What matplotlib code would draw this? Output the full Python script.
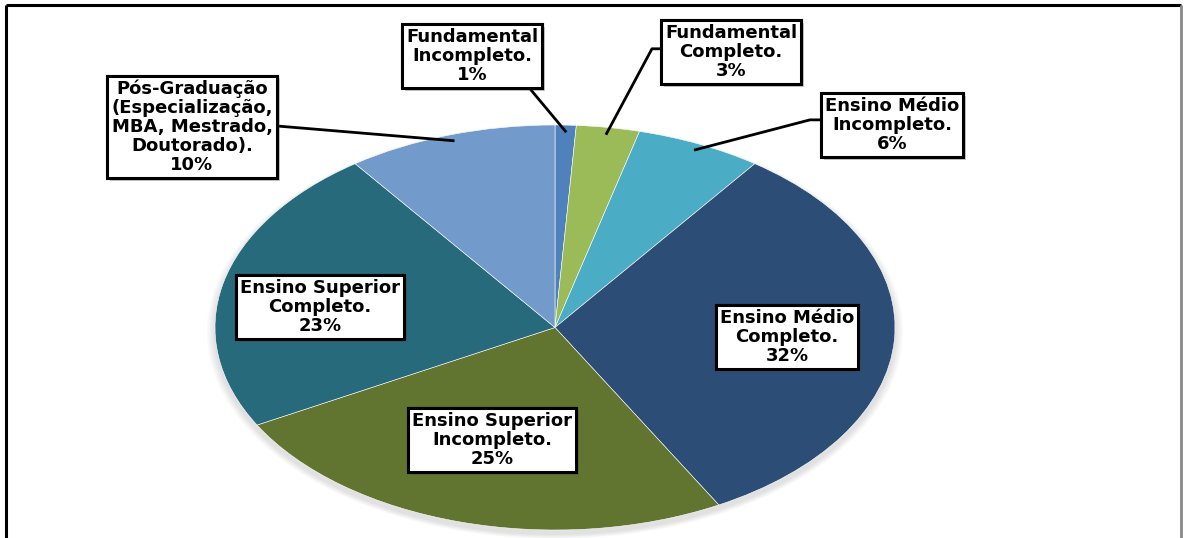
import numpy as np
import matplotlib.pyplot as plt
import matplotlib.patheffects as pe
from matplotlib.patches import Ellipse

plt.rcParams['font.family'] = ['DejaVu Sans']

# slices, clockwise from the top
labels = ['Fundamental\nIncompleto.', 'Fundamental\nCompleto.', 'Ensino Médio\nIncompleto.',
          'Ensino Médio\nCompleto.', 'Ensino Superior\nIncompleto.', 'Ensino Superior\nCompleto.',
          'Pós-Graduação\n(Especialização,\nMBA, Mestrado,\nDoutorado).']
values = [1, 3, 6, 32, 25, 23, 10]
colors = ['#4F81BD', '#9BBB59', '#4BACC6', '#2C4D75', '#617430', '#276A7C', '#729ACA']

# label box centres (pixels from top-left) and where the leader meets the box
box_xy = [(472, 56), (731, 52), (892, 125), (787, 337), (492, 440), (320, 307), (192, 127)]
leader_side = [('bottom', 0.91), ('left', 0.45), ('left', 0.42), None, None, None, ('right', 0.49)]
leader_elbow = [0, 9, 11, 0, 0, 0, 0]

W, H = 1184, 538
fig = plt.figure(figsize=(W / 100, H / 100), dpi=100)

# pie box in pixels
px0, px1, py0, py1 = 215, 895, 125, 530
axp = fig.add_axes([0, 0, 1, 1])

# soft shadow, mostly below
for k in range(6):
    s = 1.0 + 0.004 * (k + 1)
    axp.add_patch(Ellipse((0.0, -0.02), 2 * s, 2 * s, color='black', alpha=0.02, lw=0, zorder=0))

wedges, _ = axp.pie(values, colors=colors, startangle=90, counterclock=False,
                    wedgeprops=dict(linewidth=0.4, edgecolor='white'))
axp.set_aspect('auto')
axp.set_xlim(-1.05, 1.05)
axp.set_ylim(-1.05, 1.05)
# keep the unit circle exactly on the pixel box
axp.set_position([(px0 - 0.05 * (px1 - px0) / 2) / W, (H - py1 - 0.05 * (py1 - py0) / 2) / H,
                  1.05 * (px1 - px0) / W, 1.05 * (py1 - py0) / H])
axp.axis('off')

# overlay in pixel coords
ax = fig.add_axes([0, 0, 1, 1], facecolor='none')
ax.set_xlim(0, W)
ax.set_ylim(H, 0)
ax.axis('off')

# frame
ax.plot([6, 1181], [5, 5], color='black', lw=2.2, solid_capstyle='butt')
ax.plot([6, 6], [5, H], color='black', lw=2.2, solid_capstyle='butt')
ax.plot([1181, 1181], [5, H], color='#888888', lw=2.0, solid_capstyle='butt')

cx, cy = (px0 + px1) / 2, (py0 + py1) / 2
rx, ry = (px1 - px0) / 2, (py1 - py0) / 2
cum = np.cumsum([0] + values[:-1])
total = sum(values)

texts = []
for i, (lab, v) in enumerate(zip(labels, values)):
    bx, by = box_xy[i]
    t = ax.text(bx, by, f'{lab}\n{v}%', ha='center', va='center', fontsize=13,
                fontweight='bold', color='black', linespacing=1.08, zorder=5,
                bbox=dict(boxstyle='square,pad=0.22', facecolor='white', edgecolor='black', lw=2.2))
    t.get_bbox_patch().set_path_effects([pe.withSimplePatchShadow(offset=(2, -2), alpha=0.3), pe.Normal()])
    texts.append(t)

fig.canvas.draw()
inv = ax.transData.inverted()
for i, v in enumerate(values):
    if leader_side[i] is None:
        continue
    ext = texts[i].get_bbox_patch().get_window_extent()
    (x0, y1), (x1, y0) = inv.transform([(ext.x0, ext.y0), (ext.x1, ext.y1)])  # y0 top, y1 bottom
    side, f = leader_side[i]
    if side == 'bottom':
        ex, ey = x0 + f * (x1 - x0), y1
        ox = ex
    elif side == 'left':
        ex, ey = x0, y0 + f * (y1 - y0)
        ox = ex - leader_elbow[i]
    else:
        ex, ey = x1, y0 + f * (y1 - y0)
        ox = ex + leader_elbow[i]
    mid = (cum[i] + v / 2) / total * 2 * np.pi
    sx = cx + 0.97 * rx * np.sin(mid)
    sy = cy - 0.97 * ry * np.cos(mid)
    ax.plot([sx, ox, ex], [sy, ey, ey], color='black', lw=2.0, zorder=3)

fig.savefig('out.png', dpi=100)
